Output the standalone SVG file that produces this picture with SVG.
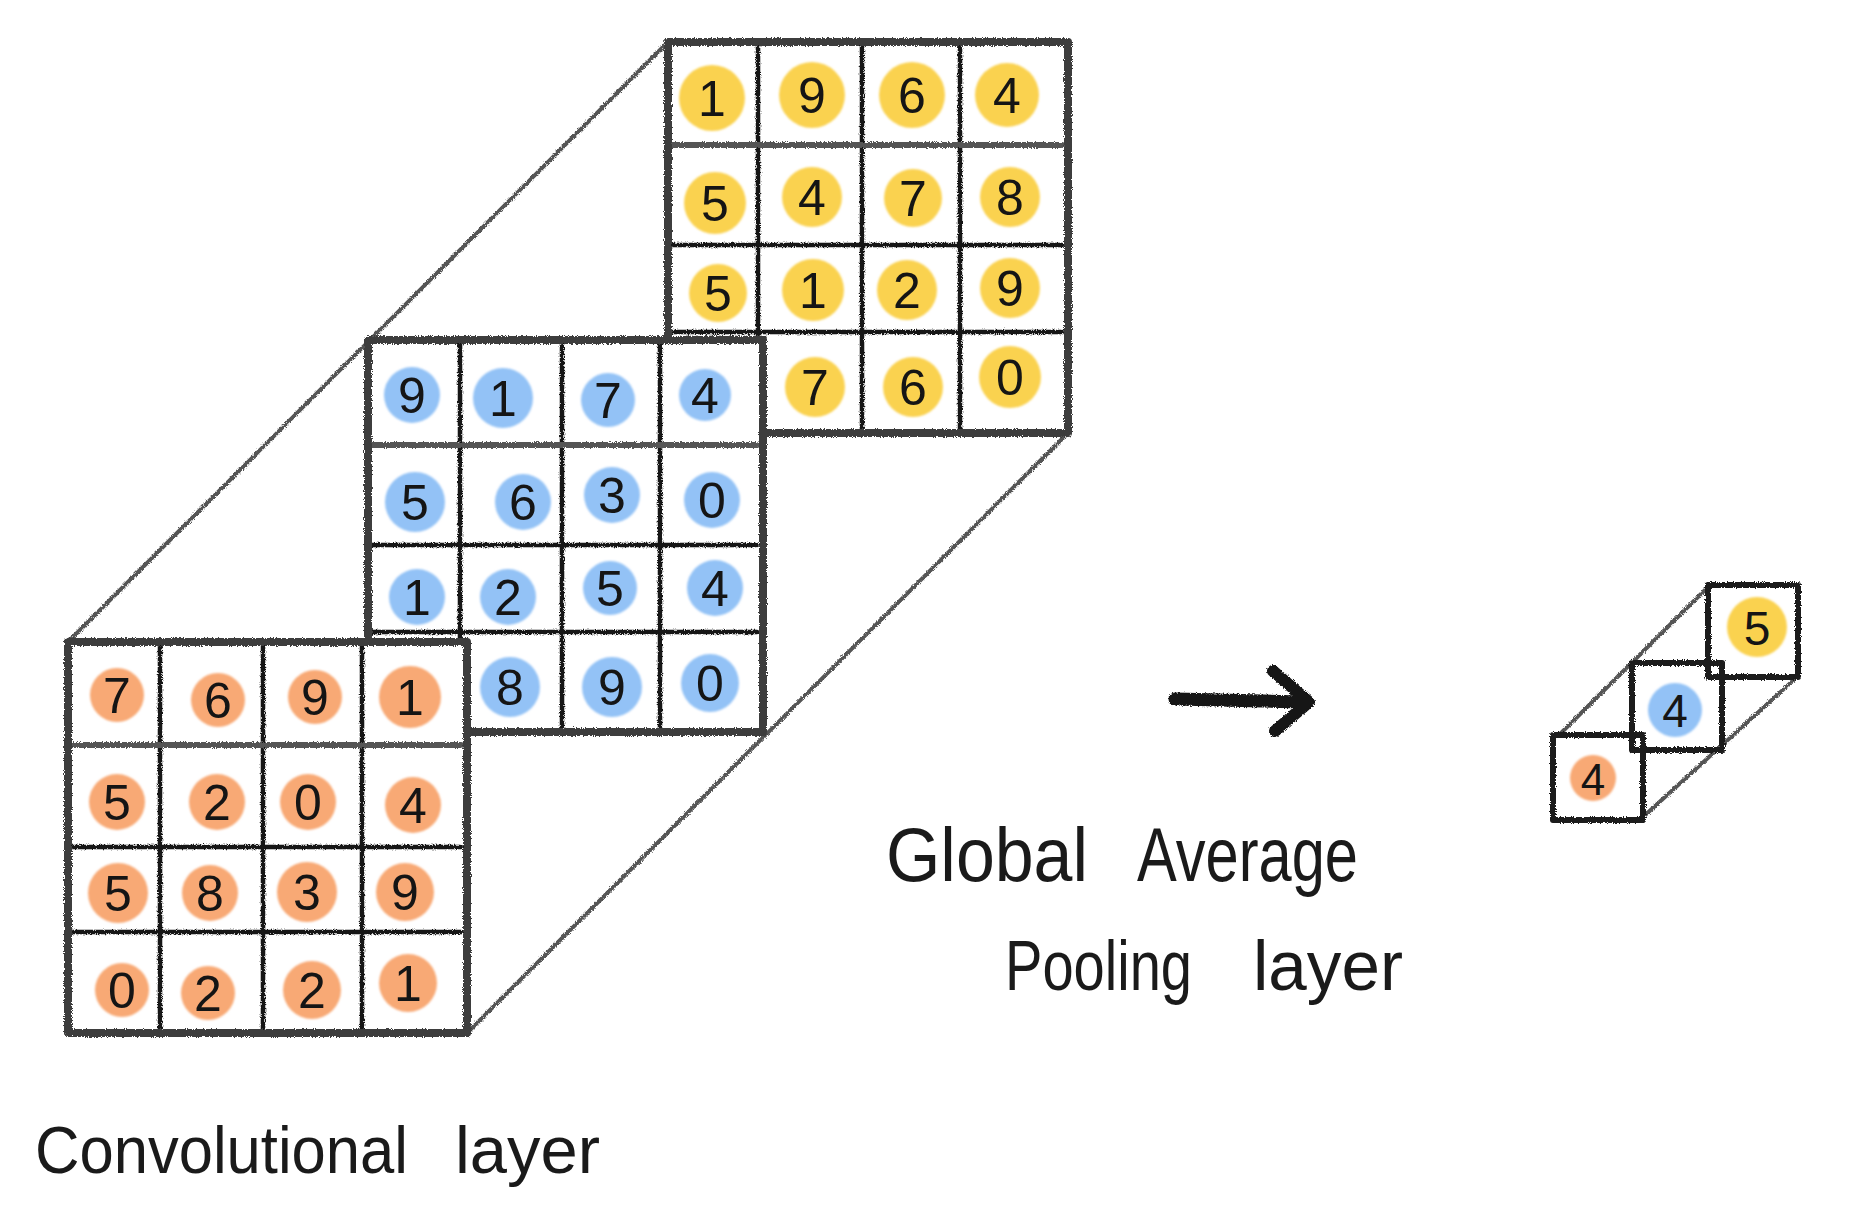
<svg xmlns="http://www.w3.org/2000/svg" width="1871" height="1226" viewBox="0 0 1871 1226">
<defs>
<filter id="pencil" filterUnits="userSpaceOnUse" x="0" y="0" width="1871" height="1226">
<feTurbulence type="fractalNoise" baseFrequency="0.9" numOctaves="2" seed="4" result="n"/>
<feDisplacementMap in="SourceGraphic" in2="n" scale="4" xChannelSelector="R" yChannelSelector="G"/>
</filter>
<filter id="soft" filterUnits="userSpaceOnUse" x="0" y="0" width="1871" height="1226">
<feGaussianBlur stdDeviation="0.8"/>
</filter>
<style>
.bg{fill:#fff;stroke:none}
.out{fill:none;stroke:#3c3c3c;stroke-width:8;stroke-linecap:round;stroke-linejoin:round}
.in{fill:none;stroke:#161616;stroke-width:4.5;stroke-linecap:round}
.ing{fill:none;stroke:#555;stroke-width:6;stroke-linecap:round}
.diag{fill:none;stroke:#555;stroke-width:4;stroke-linecap:round}
.sq{fill:none;stroke:#1a1a1a;stroke-width:6;stroke-linejoin:round}
.y{fill:#FAD250}
.b{fill:#93C2F6}
.o{fill:#F8A974}
.d{font-family:"Liberation Sans",Arial,sans-serif;font-size:50px;fill:#151515;text-anchor:middle}
.lbl{font-family:"Liberation Sans",Arial,sans-serif;fill:#1a1a1a}
</style>
</defs>
<rect x="0" y="0" width="1871" height="1226" fill="#fff"/>

<g id="connectors">
<g filter="url(#pencil)">
<line class="diag" x1="68" y1="642" x2="668" y2="42"/>
<line class="diag" x1="467" y1="1033" x2="1068" y2="433"/>
<line class="diag" x1="1558" y1="736" x2="1707" y2="588"/>
<line class="diag" x1="1643" y1="817" x2="1797" y2="677"/>
</g>
<g id="arrow" filter="url(#pencil)">
<path d="M1175,699 L1306,702" fill="none" stroke="#151515" stroke-width="13" stroke-linecap="round"/>
<path d="M1273,671 L1309,702 L1275,731" fill="none" stroke="#151515" stroke-width="12" stroke-linecap="round" stroke-linejoin="round"/>
</g>
</g>

<g id="grid-yellow">
<rect class="bg" x="668" y="42" width="400" height="391"/>
<g filter="url(#soft)">
<circle class="y" cx="712" cy="98" r="33"/><circle class="y" cx="812" cy="95" r="33"/><circle class="y" cx="912" cy="95" r="33"/><circle class="y" cx="1007" cy="95" r="32"/>
<circle class="y" cx="715" cy="203" r="31"/><circle class="y" cx="812" cy="197" r="30"/><circle class="y" cx="913" cy="198" r="29"/><circle class="y" cx="1010" cy="197" r="30"/>
<circle class="y" cx="718" cy="293" r="29"/><circle class="y" cx="813" cy="290" r="31"/><circle class="y" cx="907" cy="290" r="30"/><circle class="y" cx="1010" cy="288" r="30"/>
<circle class="y" cx="815" cy="387" r="30"/><circle class="y" cx="913" cy="387" r="30"/><circle class="y" cx="1010" cy="377" r="31"/>
</g>
<g>
<text class="d" x="712" y="116">1</text><text class="d" x="812" y="113">9</text><text class="d" x="912" y="113">6</text><text class="d" x="1007" y="113">4</text>
<text class="d" x="715" y="221">5</text><text class="d" x="812" y="215">4</text><text class="d" x="913" y="216">7</text><text class="d" x="1010" y="215">8</text>
<text class="d" x="718" y="311">5</text><text class="d" x="813" y="308">1</text><text class="d" x="907" y="308">2</text><text class="d" x="1010" y="306">9</text>
<text class="d" x="815" y="405">7</text><text class="d" x="913" y="405">6</text><text class="d" x="1010" y="395">0</text>
</g>
<g filter="url(#pencil)">
<line class="in" x1="758" y1="42" x2="758" y2="433"/><line class="in" x1="862" y1="42" x2="862" y2="433"/><line class="in" x1="960" y1="42" x2="960" y2="433"/>
<line class="ing" x1="668" y1="145" x2="1062" y2="145"/><line class="in" x1="668" y1="245" x2="1062" y2="245"/><line class="in" x1="668" y1="332" x2="1062" y2="332"/>
<rect class="out" x="668" y="42" width="400" height="391"/>
</g>
</g>

<g id="grid-blue">
<rect class="bg" x="368" y="340" width="395" height="392"/>
<g filter="url(#soft)">
<circle class="b" cx="412" cy="395" r="28"/><circle class="b" cx="503" cy="398" r="30"/><circle class="b" cx="608" cy="400" r="27"/><circle class="b" cx="705" cy="395" r="26"/>
<circle class="b" cx="415" cy="502" r="30"/><circle class="b" cx="523" cy="502" r="28"/><circle class="b" cx="612" cy="495" r="28"/><circle class="b" cx="712" cy="500" r="28"/>
<circle class="b" cx="417" cy="597" r="28"/><circle class="b" cx="508" cy="597" r="28"/><circle class="b" cx="610" cy="588" r="27"/><circle class="b" cx="715" cy="588" r="28"/>
<circle class="b" cx="510" cy="687" r="30"/><circle class="b" cx="612" cy="687" r="30"/><circle class="b" cx="710" cy="683" r="29"/>
</g>
<g>
<text class="d" x="412" y="413">9</text><text class="d" x="503" y="416">1</text><text class="d" x="608" y="418">7</text><text class="d" x="705" y="413">4</text>
<text class="d" x="415" y="520">5</text><text class="d" x="523" y="520">6</text><text class="d" x="612" y="513">3</text><text class="d" x="712" y="518">0</text>
<text class="d" x="417" y="615">1</text><text class="d" x="508" y="615">2</text><text class="d" x="610" y="606">5</text><text class="d" x="715" y="606">4</text>
<text class="d" x="510" y="705">8</text><text class="d" x="612" y="705">9</text><text class="d" x="710" y="701">0</text>
</g>
<g filter="url(#pencil)">
<line class="in" x1="460" y1="340" x2="460" y2="732"/><line class="in" x1="562" y1="340" x2="562" y2="732"/><line class="in" x1="660" y1="340" x2="660" y2="732"/>
<line class="ing" x1="368" y1="445" x2="757" y2="445"/><line class="in" x1="368" y1="545" x2="757" y2="545"/><line class="in" x1="368" y1="632" x2="757" y2="632"/>
<rect class="out" x="368" y="340" width="395" height="392"/>
</g>
</g>

<g id="grid-orange">
<rect class="bg" x="68" y="642" width="399" height="391"/>
<g filter="url(#soft)">
<circle class="o" cx="117" cy="695" r="27"/><circle class="o" cx="218" cy="700" r="27"/><circle class="o" cx="315" cy="697" r="27"/><circle class="o" cx="410" cy="697" r="31"/>
<circle class="o" cx="117" cy="802" r="28"/><circle class="o" cx="217" cy="802" r="28"/><circle class="o" cx="308" cy="802" r="28"/><circle class="o" cx="413" cy="805" r="28"/>
<circle class="o" cx="118" cy="893" r="30"/><circle class="o" cx="210" cy="893" r="28"/><circle class="o" cx="307" cy="892" r="30"/><circle class="o" cx="405" cy="892" r="29"/>
<circle class="o" cx="122" cy="990" r="27"/><circle class="o" cx="208" cy="993" r="27"/><circle class="o" cx="312" cy="990" r="29"/><circle class="o" cx="408" cy="983" r="29"/>
</g>
<g>
<text class="d" x="117" y="713">7</text><text class="d" x="218" y="718">6</text><text class="d" x="315" y="715">9</text><text class="d" x="410" y="715">1</text>
<text class="d" x="117" y="820">5</text><text class="d" x="217" y="820">2</text><text class="d" x="308" y="820">0</text><text class="d" x="413" y="823">4</text>
<text class="d" x="118" y="911">5</text><text class="d" x="210" y="911">8</text><text class="d" x="307" y="910">3</text><text class="d" x="405" y="910">9</text>
<text class="d" x="122" y="1008">0</text><text class="d" x="208" y="1011">2</text><text class="d" x="312" y="1008">2</text><text class="d" x="408" y="1001">1</text>
</g>
<g filter="url(#pencil)">
<line class="in" x1="160" y1="642" x2="160" y2="1033"/><line class="in" x1="263" y1="642" x2="263" y2="1033"/><line class="in" x1="362" y1="642" x2="362" y2="1033"/>
<line class="ing" x1="68" y1="745" x2="461" y2="745"/><line class="in" x1="68" y1="847" x2="461" y2="847"/><line class="in" x1="68" y1="932" x2="461" y2="932"/>
<rect class="out" x="68" y="642" width="399" height="391"/>
</g>
</g>

<g id="pooled">
<g filter="url(#soft)">
<circle class="o" cx="1593" cy="778" r="23"/>
<circle class="b" cx="1675" cy="710" r="27"/>
<circle class="y" cx="1757" cy="627" r="30"/>
</g>
<g filter="url(#pencil)">
<rect class="sq" x="1553" y="735" width="90" height="85"/>
<rect class="sq" x="1632" y="663" width="90" height="87"/>
<rect class="sq" x="1708" y="585" width="90" height="92"/>
</g>
<text class="d" x="1593" y="795" style="font-size:44px">4</text>
<text class="d" x="1675" y="727" style="font-size:46px">4</text>
<text class="d" x="1757" y="645" style="font-size:48px">5</text>
</g>

<g id="labels">
<text class="lbl" style="font-size:76px" y="881"><tspan x="886" textLength="202" lengthAdjust="spacingAndGlyphs">Global</tspan><tspan x="1137" textLength="221" lengthAdjust="spacingAndGlyphs">Average</tspan></text>
<text class="lbl" style="font-size:70px" y="990"><tspan x="1005" textLength="187" lengthAdjust="spacingAndGlyphs">Pooling</tspan><tspan x="1253" textLength="150" lengthAdjust="spacingAndGlyphs">layer</tspan></text>
<text class="lbl" style="font-size:66px" y="1173"><tspan x="35" textLength="373" lengthAdjust="spacingAndGlyphs">Convolutional</tspan><tspan x="455" textLength="145" lengthAdjust="spacingAndGlyphs">layer</tspan></text>
</g>
</svg>
